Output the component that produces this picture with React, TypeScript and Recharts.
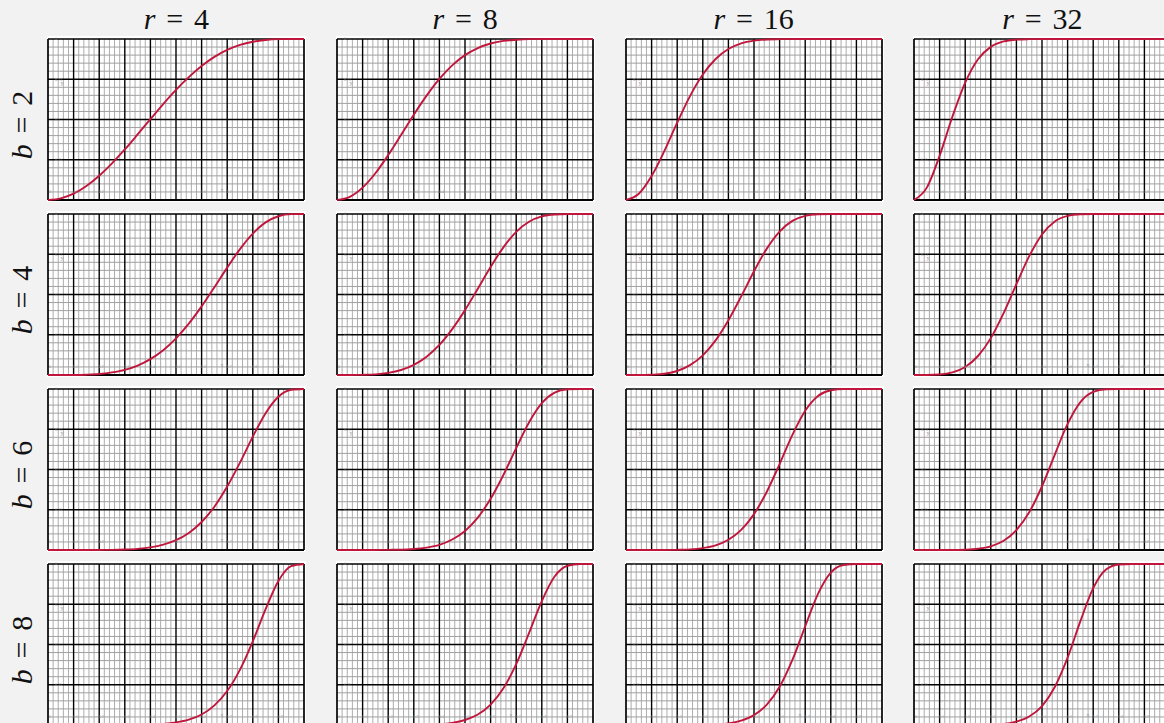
import { LineChart, Line, XAxis, YAxis, ReferenceLine, ReferenceDot } from "recharts";

// similarity s on the x axis, sampled every 0.05
const S = [0, 0.05, 0.1, 0.15, 0.2, 0.25, 0.3, 0.35, 0.4, 0.45, 0.5, 0.55, 0.6, 0.65, 0.7, 0.75, 0.8, 0.85, 0.9, 0.95, 1];

const R_VALUES = [4, 8, 16, 32];
const B_VALUES = [2, 4, 6, 8];

// values (row b, column r)
const b2r4 = [0, 0.01, 0.039, 0.087, 0.151, 0.228, 0.314, 0.407, 0.502, 0.596, 0.684, 0.763, 0.832, 0.889, 0.932, 0.963, 0.983, 0.994, 0.999, 1, 1];
const b2r8 = [0, 0.02, 0.077, 0.166, 0.279, 0.404, 0.53, 0.648, 0.752, 0.836, 0.9, 0.944, 0.972, 0.988, 0.995, 0.999, 1, 1, 1, 1, 1];
const b2r16 = [0, 0.039, 0.149, 0.305, 0.48, 0.645, 0.779, 0.876, 0.938, 0.973, 0.99, 0.997, 0.999, 1, 1, 1, 1, 1, 1, 1, 1];
const b2r32 = [0, 0.077, 0.275, 0.517, 0.729, 0.874, 0.951, 0.985, 0.996, 0.999, 1, 1, 1, 1, 1, 1, 1, 1, 1, 1, 1];

const b4r4 = [0, 0, 0.0004, 0.002, 0.006, 0.016, 0.032, 0.059, 0.099, 0.154, 0.228, 0.319, 0.426, 0.545, 0.667, 0.782, 0.878, 0.948, 0.986, 0.999, 1];
const b4r8 = [0, 0, 0.001, 0.004, 0.013, 0.031, 0.063, 0.114, 0.187, 0.285, 0.403, 0.536, 0.671, 0.793, 0.889, 0.952, 0.985, 0.997, 1, 1, 1];
const b4r16 = [0, 0, 0.002, 0.008, 0.025, 0.061, 0.122, 0.215, 0.34, 0.488, 0.644, 0.785, 0.891, 0.957, 0.988, 0.998, 1, 1, 1, 1, 1];
const b4r32 = [0, 0, 0.003, 0.016, 0.05, 0.118, 0.229, 0.384, 0.564, 0.738, 0.873, 0.954, 0.988, 0.998, 1, 1, 1, 1, 1, 1, 1];

const b6r4 = [0, 0, 0, 0, 0.0003, 0.001, 0.003, 0.007, 0.016, 0.033, 0.061, 0.106, 0.174, 0.269, 0.394, 0.543, 0.704, 0.85, 0.952, 0.995, 1];
const b6r8 = [0, 0, 0, 0, 0.001, 0.002, 0.006, 0.015, 0.032, 0.065, 0.118, 0.201, 0.318, 0.466, 0.633, 0.792, 0.912, 0.977, 0.998, 1, 1];
const b6r16 = [0, 0, 0, 0, 0.001, 0.004, 0.012, 0.029, 0.064, 0.125, 0.223, 0.362, 0.534, 0.715, 0.865, 0.957, 0.992, 1, 1, 1, 1];
const b6r32 = [0, 0, 0, 0, 0.002, 0.008, 0.023, 0.057, 0.124, 0.234, 0.396, 0.593, 0.783, 0.919, 0.982, 0.998, 1, 1, 1, 1, 1];

const b8r4 = [0, 0, 0, 0, 0, 0, 0, 0.001, 0.003, 0.007, 0.016, 0.033, 0.065, 0.122, 0.211, 0.344, 0.52, 0.72, 0.895, 0.987, 1];
const b8r8 = [0, 0, 0, 0, 0, 0, 0, 0.002, 0.005, 0.013, 0.031, 0.065, 0.127, 0.228, 0.378, 0.57, 0.77, 0.922, 0.989, 1, 1];
const b8r16 = [0, 0, 0, 0, 0, 0, 0.001, 0.004, 0.01, 0.027, 0.061, 0.126, 0.237, 0.404, 0.613, 0.815, 0.947, 0.994, 1, 1, 1];
const b8r32 = [0, 0, 0, 0, 0, 0, 0.002, 0.007, 0.021, 0.053, 0.118, 0.236, 0.418, 0.645, 0.85, 0.966, 0.997, 1, 1, 1, 1];

const CURVES = [
  [b2r4, b2r8, b2r16, b2r32],
  [b4r4, b4r8, b4r16, b4r32],
  [b6r4, b6r8, b6r16, b6r32],
  [b8r4, b8r8, b8r16, b8r32],
];

const X_LABELS = [0, 0.1, 0.2, 0.3, 0.4, 0.5, 0.6, 0.7, 0.8, 0.9];
const X_MAJOR = [0, 0.1, 0.2, 0.3, 0.4, 0.5, 0.6, 0.7, 0.8, 0.9, 1];
const Y_LABELS = [0.25, 0.5, 0.75, 1];
const Y_MAJOR = [0, 0.25, 0.5, 0.75, 1];

// graph-paper minor lines: every 0.02 across, every 0.05 up
const X_MINOR = Array.from({ length: 51 }, (_, i) => i / 50).filter((_, i) => i % 5 !== 0);
const Y_MINOR = Array.from({ length: 21 }, (_, i) => i / 20).filter((_, i) => i % 5 !== 0);

const PANEL_W = 259;
const PANEL_H = 166;
const COL_X = [48.4, 337.05, 625.7, 914.35];
const ROW_Y = [39.3, 214.3, 389.3, 564.3];
const CURVE_COLOR = "#c0163c";
const MATH_FONT = "'Liberation Serif', 'Times New Roman', Tinos, 'Nimbus Roman', 'DejaVu Serif', serif";

const Panel = ({ values, left, top }: { values: number[]; left: number; top: number }) => {
  const data = S.map((s, i) => ({ s, p: values[i] }));
  return (
    <div style={{ position: "absolute", left, top, width: PANEL_W, height: PANEL_H, background: "#fff" }}>
      <LineChart width={PANEL_W} height={PANEL_H} data={data} margin={{ top: 3, right: 2, bottom: 2, left: 1 }}>
        <XAxis
          type="number"
          dataKey="s"
          domain={[0, 1]}
          ticks={X_LABELS}
          interval={0}
          mirror
          height={8}
          axisLine={false}
          tickLine={false}
          tickMargin={1}
          tick={{ fontSize: 4, fill: "#9a9a9a", dx: 2 }}
        />
        <YAxis
          type="number"
          domain={[0, 1]}
          ticks={Y_LABELS}
          interval={0}
          mirror
          width={8}
          axisLine={false}
          tickLine={false}
          tickMargin={1}
          tick={{ fontSize: 4, fill: "#9a9a9a" }}
        />
        {X_MINOR.map((v) => (
          <ReferenceLine key={`xm-${v}`} x={v} stroke="#adadad" strokeWidth={1} />
        ))}
        {Y_MINOR.map((v) => (
          <ReferenceLine key={`ym-${v}`} y={v} stroke="#a0a0a0" strokeWidth={1} />
        ))}
        {X_MAJOR.map((v) => (
          <ReferenceLine key={`xM-${v}`} x={v} stroke="#000" strokeWidth={v === 0 || v === 1 ? 1.7 : 1.4} />
        ))}
        {Y_MAJOR.map((v) => (
          <ReferenceLine key={`yM-${v}`} y={v} stroke="#000" strokeWidth={v === 0 ? 1.9 : 1.4} />
        ))}
        <ReferenceDot x={0.055} y={0.725} r={0} label={{ value: "y", fontSize: 6, fill: "#999", position: "center" }} />
        <ReferenceDot x={0.68} y={0.06} r={0} label={{ value: "x", fontSize: 6, fill: "#999", position: "center" }} />
        <Line type="monotone" dataKey="p" stroke={CURVE_COLOR} strokeWidth={1.9} dot={false} isAnimationActive={false} />
      </LineChart>
    </div>
  );
};

const mathLabel = (name: string, value: number) => (
  <>
    <i>{name}</i>
    <span style={{ margin: "0 0.36em" }}>=</span>
    {value}
  </>
);

export default function App() {
  return (
    <div style={{ position: "absolute", left: 0, top: 0, width: 1164, height: 745, background: "#f2f2f2", overflow: "hidden" }}>
      {R_VALUES.map((r, c) => (
        <div
          key={`title-${r}`}
          style={{
            position: "absolute",
            left: COL_X[c] + 128 - 80,
            top: 4,
            width: 160,
            textAlign: "center",
            fontFamily: MATH_FONT,
            fontSize: 30,
            lineHeight: "30px",
            color: "#111",
          }}
        >
          {mathLabel("r", r)}
        </div>
      ))}
      {B_VALUES.map((b, rIdx) => (
        <div
          key={`row-${b}`}
          style={{
            position: "absolute",
            left: 22 - 60,
            top: ROW_Y[rIdx] + 86 - 15,
            width: 120,
            height: 30,
            textAlign: "center",
            fontFamily: MATH_FONT,
            fontSize: 30,
            lineHeight: "30px",
            color: "#111",
            transform: "rotate(-90deg)",
          }}
        >
          {mathLabel("b", b)}
        </div>
      ))}
      {CURVES.map((row, rIdx) =>
        row.map((values, c) => (
          <Panel key={`p-${rIdx}-${c}`} values={values} left={COL_X[c] - 1} top={ROW_Y[rIdx] - 3} />
        ))
      )}
    </div>
  );
}
